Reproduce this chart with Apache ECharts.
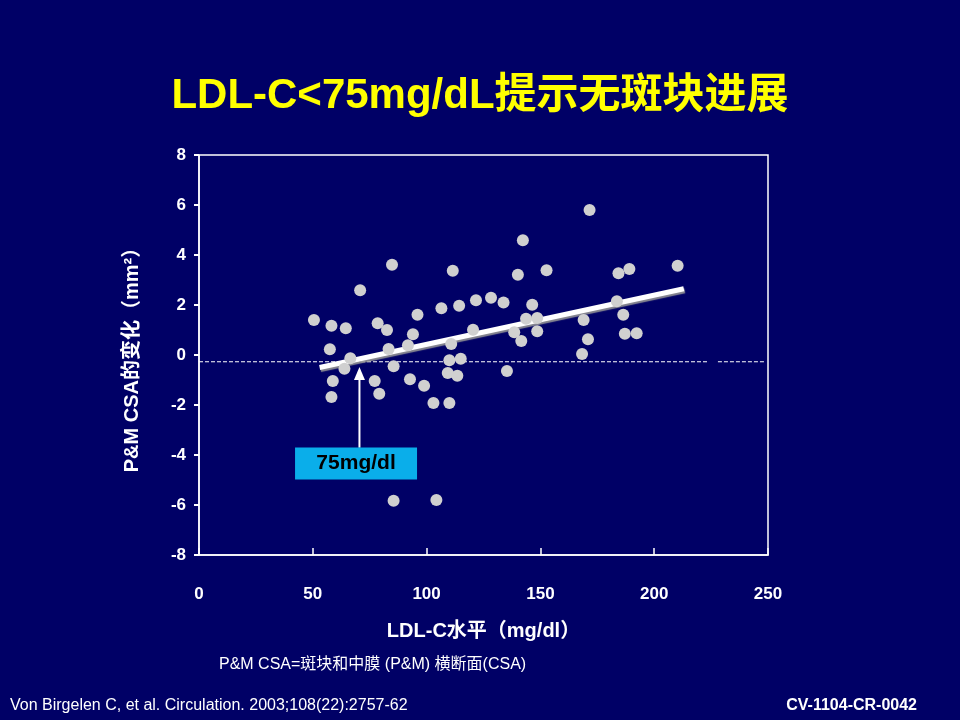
<!DOCTYPE html>
<html>
<head>
<meta charset="utf-8">
<title>LDL-C<75mg/dL提示无斑块进展</title>
<script src="https://cdn.jsdelivr.net/npm/echarts@6/dist/echarts.min.js"></script>
<style>
    html, body { margin: 0; padding: 0; background: #000066; }
    #chart { width: 960px; height: 720px; }
</style>
</head>
<body>
<div id="chart"></div>
<script>
// LDL-C (mg/dl) vs change in P&M CSA (mm²), one entry per patient
const ldl = [
    50.5, 58.2, 64.5, 70.8, 78.5, 82.6, 84.8, 96.0, 94.0, 106.5,
    114.3, 121.7, 128.3, 120.4, 111.5, 57.5, 66.5, 63.9, 83.3, 91.8,
    85.5, 110.8, 110.0, 115.0, 109.3, 113.5, 58.8, 58.2, 77.2, 79.2,
    92.7, 98.9, 103.0, 110.0, 85.5, 104.3, 142.3, 171.6, 133.8, 140.1,
    152.7, 146.4, 143.7, 148.6, 138.5, 141.6, 148.6, 169.0, 170.9, 168.3,
    184.3, 189.1, 210.3, 183.6, 186.4, 187.1, 192.3, 135.3
];
const csaChange = [
    1.40, 1.17, 1.07, 2.59, 1.27, 1.00, 3.61, 1.61, 0.83, 1.87,
    1.97, 2.19, 2.29, 1.01, 3.37, 0.23, -0.13, -0.55, 0.24, 0.39,
    -0.45, 0.44, -0.21, -0.15, -0.72, -0.83, -1.04, -1.68, -1.04, -1.55,
    -0.97, -1.23, -1.92, -1.92, -5.83, -5.80, 4.59, 5.80, 2.10, 3.21,
    3.39, 2.01, 1.45, 1.48, 0.91, 0.56, 0.95, 1.40, 0.63, 0.04,
    3.27, 3.44, 3.57, 2.15, 1.61, 0.85, 0.87, -0.64
];

// regression line end points
const fitLdl = [53, 213];
const fitCsa = [-0.5, 2.65];

// dashed reference level, drawn in two pieces
const cutoffCsa = -0.27;
const cutoffPieces = [[0, 223.6], [228, 248.7]];

// arrow pointing at the 75 mg/dl crossing, and its label
const arrowLdl = 70.5;
const arrowCsa = [-3.71, -0.74];
const calloutLdl = 69;
const calloutCsa = -4.34;
const calloutText = '75mg/dl';

const xTicks = { min: 0, max: 250, interval: 50 };
const yTicks = { min: -8, max: 8, interval: 2 };

const latin = '"Liberation Sans", Arial, "Noto Sans CJK SC", sans-serif';

const chart = echarts.init(document.getElementById('chart'));

const points = ldl.map((x, i) => [x, csaChange[i]]);

const cutoffSeries = cutoffPieces.map(piece => ({
    type: 'line',
    data: piece.map(x => [x, cutoffCsa]),
    symbol: 'none',
    silent: true,
    z: 1,
    lineStyle: { color: '#ffffff', width: 1, type: [4, 2] }
}));

const option = {
    backgroundColor: '#000066',
    animation: false,
    textStyle: { fontFamily: latin },
    title: {
        text: 'LDL-C<75mg/dL提示无斑块进展',
        left: 'center',
        top: 70,
        textStyle: {
            color: '#ffff00',
            fontSize: 42,
            fontWeight: 'bold',
            fontFamily: latin
        }
    },
    grid: {
        left: 199,
        top: 155,
        width: 569,
        height: 400,
        show: true,
        borderColor: '#ffffff',
        borderWidth: 1.5,
        backgroundColor: 'transparent'
    },
    xAxis: {
        type: 'value',
        min: xTicks.min,
        max: xTicks.max,
        interval: xTicks.interval,
        name: 'LDL-C水平（mg/dl）',
        nameLocation: 'middle',
        nameGap: 66,
        nameTextStyle: { color: '#ffffff', fontSize: 20, fontWeight: 'bold' },
        axisLine: { show: true, onZero: false, lineStyle: { color: '#ffffff', width: 1.5 } },
        axisTick: { show: true, inside: true, length: 7, lineStyle: { color: '#ffffff', width: 1.5 } },
        axisLabel: { color: '#ffffff', fontSize: 17, fontWeight: 'bold', margin: 31 },
        splitLine: { show: false }
    },
    yAxis: {
        type: 'value',
        min: yTicks.min,
        max: yTicks.max,
        interval: yTicks.interval,
        name: 'P&M CSA的变化（mm²）',
        nameLocation: 'middle',
        nameGap: 57,
        nameTextStyle: { color: '#ffffff', fontSize: 20, fontWeight: 'bold' },
        axisLine: { show: true, onZero: false, lineStyle: { color: '#ffffff', width: 1.5 } },
        axisTick: { show: true, length: 5, lineStyle: { color: '#ffffff', width: 2 } },
        axisLabel: { color: '#ffffff', fontSize: 17, fontWeight: 'bold', margin: 13 },
        splitLine: { show: false }
    },
    series: [
        ...cutoffSeries,
        {
            type: 'line',
            data: fitLdl.map((x, i) => [x, fitCsa[i]]),
            symbol: 'none',
            silent: true,
            z: 2,
            lineStyle: {
                color: '#ffffff',
                width: 5,
                shadowColor: 'rgba(150,150,150,0.9)',
                shadowOffsetX: 1,
                shadowOffsetY: 2,
                shadowBlur: 1
            }
        },
        {
            type: 'scatter',
            data: points,
            symbolSize: 12,
            z: 3,
            itemStyle: { color: '#d0d0d0', opacity: 1 }
        },
        {
            type: 'line',
            data: [
                { value: [arrowLdl, arrowCsa[0]], symbol: 'none' },
                { value: [arrowLdl, arrowCsa[1]], symbol: 'triangle', symbolSize: [11, 13] }
            ],
            silent: true,
            z: 4,
            lineStyle: { color: '#ffffff', width: 2 },
            itemStyle: { color: '#ffffff', opacity: 1 }
        },
        {
            type: 'scatter',
            data: [[calloutLdl, calloutCsa]],
            symbol: 'rect',
            symbolSize: [122, 32],
            silent: true,
            z: 5,
            itemStyle: { color: '#0aaeea', opacity: 1 },
            label: {
                show: true,
                position: 'inside',
                formatter: calloutText,
                color: '#000000',
                fontSize: 21,
                fontWeight: 'bold',
                fontFamily: latin
            }
        }
    ],
    graphic: [
        {
            type: 'text',
            left: 219,
            top: 657,
            style: {
                text: 'P&M CSA=斑块和中膜 (P&M) 横断面(CSA)',
                fill: '#ffffff',
                fontSize: 16,
                fontFamily: latin
            }
        },
        {
            type: 'text',
            left: 10,
            top: 698,
            style: {
                text: 'Von Birgelen C, et al. Circulation. 2003;108(22):2757-62',
                fill: '#ffffff',
                fontSize: 16,
                fontFamily: latin
            }
        },
        {
            type: 'text',
            right: 43,
            top: 698,
            style: {
                text: 'CV-1104-CR-0042',
                fill: '#ffffff',
                fontSize: 16,
                fontWeight: 'bold',
                fontFamily: latin
            }
        }
    ]
};

chart.setOption(option);

window.addEventListener('resize', () => {
    chart.resize();
});
</script>
</body>
</html>
